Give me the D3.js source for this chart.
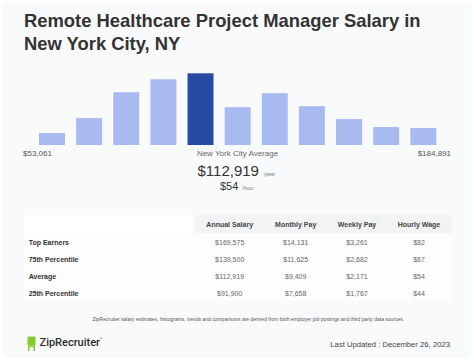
<!DOCTYPE html>
<html>
<head>
<meta charset="utf-8">
<script src="https://cdn.jsdelivr.net/npm/d3@7"></script>
<style>
  body { margin: 0; background: #fff; }
  svg { display: block; font-family: "Liberation Sans", Arial, sans-serif; }
</style>
</head>
<body>
<div id="chart"></div>
<script>
// histogram bins (relative heights), the 5th is the average bin
var bins = [12, 27, 53, 66, 72, 38, 52, 39, 26, 18, 17];
var highlightBin = 4;
var rangeLabels = ["$53,061", "New York City Average", "$184,891"];

var columns = ["Annual Salary", "Monthly Pay", "Weekly Pay", "Hourly Wage"];
var rowLabels = ["Top Earners", "75th Percentile", "Average", "25th Percentile"];
var annual = ["$169,575", "$139,500", "$112,919", "$91,900"];
var monthly = ["$14,131", "$11,625", "$9,409", "$7,658"];
var weekly = ["$3,261", "$2,682", "$2,171", "$1,767"];
var hourly = ["$82", "$67", "$54", "$44"];

var width = 474,
    height = 361;

var svg = d3.select("#chart").append("svg")
    .attr("width", width)
    .attr("height", height);

svg.append("rect")
    .attr("x", 3).attr("y", 3)
    .attr("width", width - 6).attr("height", height - 6)
    .attr("fill", "#f9fafb");

// title
var title = svg.append("text")
    .attr("x", 24)
    .attr("fill", "#333")
    .style("font-size", "18.4px")
    .style("font-weight", "bold");
title.append("tspan").attr("x", 24).attr("y", 27).text("Remote Healthcare Project Manager Salary in");
title.append("tspan").attr("x", 24).attr("y", 50).text("New York City, NY");

// histogram
var x = d3.scaleBand()
    .domain(d3.range(bins.length))
    .range([39, 436.3])
    .paddingInner(0.3)
    .paddingOuter(0);

var y = d3.scaleLinear()
    .domain([0, d3.max(bins)])
    .range([145, 73.3]);

svg.selectAll(".bar")
    .data(bins)
  .enter().append("rect")
    .attr("class", "bar")
    .attr("x", function(d, i) { return x(i); })
    .attr("y", function(d) { return y(d); })
    .attr("width", x.bandwidth())
    .attr("height", function(d) { return y(0) - y(d); })
    .attr("fill", function(d, i) { return i == highlightBin ? "#2649a3" : "#a9baf0"; });

svg.append("text")
    .attr("x", 23).attr("y", 156)
    .attr("fill", "#555")
    .style("font-size", "8px")
    .text(rangeLabels[0]);
svg.append("text")
    .attr("x", 237.5).attr("y", 156)
    .attr("text-anchor", "middle")
    .attr("fill", "#666")
    .style("font-size", "8px")
    .text(rangeLabels[1]);
svg.append("text")
    .attr("x", 451).attr("y", 156)
    .attr("text-anchor", "end")
    .attr("fill", "#555")
    .style("font-size", "8px")
    .text(rangeLabels[2]);

// average figures
var big = svg.append("text")
    .attr("x", 197.5).attr("y", 176)
    .attr("fill", "#333")
    .style("font-size", "15px");
big.append("tspan").text(annual[2]);
big.append("tspan").attr("dx", 5).attr("fill", "#777")
    .style("font-size", "5px").style("font-style", "italic").text("/year");

var small = svg.append("text")
    .attr("x", 220).attr("y", 190)
    .attr("fill", "#333")
    .style("font-size", "11px");
small.append("tspan").text(hourly[2]);
small.append("tspan").attr("dx", 4).attr("fill", "#777")
    .style("font-size", "5px").style("font-style", "italic").text("/hour");

// table
var colX = [229.7, 295.7, 357, 419];
var tableLeft = 24, tableRight = 451.7, firstColRight = 194.7;
var headerTop = 215, headerH = 18.3, rowH = 17;

svg.append("rect")
    .attr("x", tableLeft).attr("y", headerTop)
    .attr("width", firstColRight - tableLeft).attr("height", headerH)
    .attr("fill", "#fff");
svg.append("rect")
    .attr("x", firstColRight).attr("y", headerTop)
    .attr("width", tableRight - firstColRight).attr("height", headerH)
    .attr("fill", "#f2f3f5");

svg.selectAll(".colhead")
    .data(columns)
  .enter().append("text")
    .attr("class", "colhead")
    .attr("x", function(d, i) { return colX[i]; })
    .attr("y", headerTop + headerH / 2)
    .attr("dy", "0.35em")
    .attr("text-anchor", "middle")
    .attr("fill", "#444")
    .style("font-size", "7px")
    .style("font-weight", "bold")
    .text(function(d) { return d; });

var rowTop = headerTop + headerH + 0.5;
var rows = svg.selectAll(".row")
    .data(rowLabels)
  .enter().append("g")
    .attr("class", "row")
    .attr("transform", function(d, i) { return "translate(0," + (rowTop + i * rowH) + ")"; });

rows.append("rect")
    .attr("x", tableLeft).attr("y", 0)
    .attr("width", tableRight - tableLeft).attr("height", rowH - 1)
    .attr("fill", "#fdfdfe");

rows.append("text")
    .attr("x", 28.7).attr("y", rowH / 2)
    .attr("dy", "0.35em")
    .attr("fill", "#333")
    .style("font-size", "7px")
    .style("font-weight", "bold")
    .text(function(d) { return d; });

var tableValues = [annual, monthly, weekly, hourly];
rows.each(function(d, r) {
  d3.select(this).selectAll(".val")
      .data(tableValues.map(function(col) { return col[r]; }))
    .enter().append("text")
      .attr("x", function(v, i) { return colX[i]; })
      .attr("y", rowH / 2)
      .attr("dy", "0.35em")
      .attr("text-anchor", "middle")
      .attr("fill", "#666")
      .style("font-size", "7px")
      .text(function(v) { return v; });
});

// footer
svg.append("text")
    .attr("x", 248.3).attr("y", 319)
    .attr("dy", "0.35em")
    .attr("text-anchor", "middle")
    .attr("fill", "#555")
    .style("font-size", "5px")
    .text("ZipRecruiter salary estimates, histograms, trends and comparisons are derived from both employer job postings and third party data sources.");

var logo = svg.append("g").attr("fill", "#84cc2a");
logo.append("rect").attr("x", 27.5).attr("y", 336.5).attr("width", 8).attr("height", 9).attr("rx", 1);
logo.append("rect").attr("x", 28).attr("y", 345.5).attr("width", 7).attr("height", 1.5);
logo.append("rect").attr("x", 28).attr("y", 347).attr("width", 1.5).attr("height", 4);
logo.append("rect").attr("x", 33.5).attr("y", 347).attr("width", 1.5).attr("height", 4);

svg.append("text")
    .attr("x", 39.5).attr("y", 345.5)
    .attr("fill", "#2d2d2d")
    .style("font-size", "11px")
    .style("font-family", "Roboto, 'Liberation Sans', sans-serif")
    .style("font-weight", "500")
    .text("ZipRecruiter");
svg.append("text")
    .attr("x", 100).attr("y", 340)
    .attr("fill", "#555")
    .style("font-size", "3px")
    .text("®");

svg.append("text")
    .attr("x", 450).attr("y", 347)
    .attr("text-anchor", "end")
    .attr("fill", "#444")
    .style("font-size", "7.7px")
    .text("Last Updated : December 26, 2023");
</script>
</body>
</html>
